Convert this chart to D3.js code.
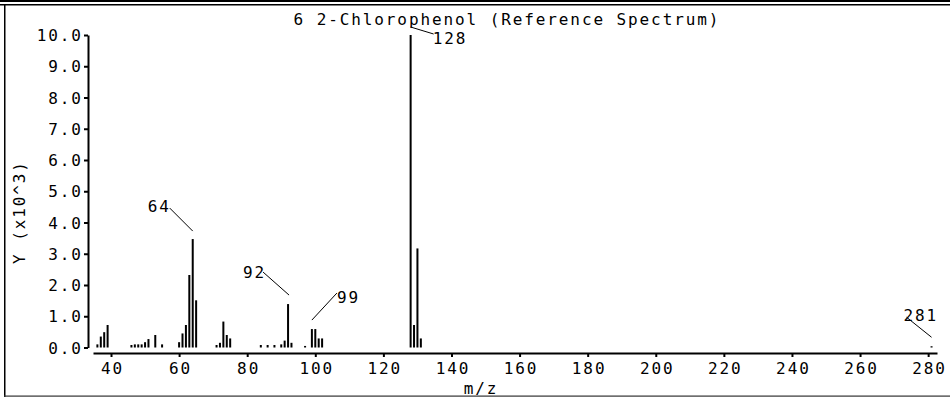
<!DOCTYPE html>
<html>
<head>
<meta charset="utf-8">
<script src="https://cdn.jsdelivr.net/npm/d3@7"></script>
<style>
  html, body { margin: 0; padding: 0; background: #fff; }
  svg { display: block; }
  text { font-family: "DejaVu Sans Mono", "Liberation Mono", monospace; font-size: 16px; letter-spacing: 1.9px; fill: #000; }
</style>
</head>
<body>
<svg id="chart" width="950" height="397"></svg>
<script>
// ---- data ----
const titleText = "6 2-Chlorophenol (Reference Spectrum)";
const xLabel = "m/z";
const yLabel = "Y (x10^3)";
const mzValues = [36, 37, 38, 39,
                  46, 47, 48, 49, 50, 51, 53, 55,
                  60, 61, 62, 63, 64, 65,
                  71, 72, 73, 74, 75,
                  84, 86, 88, 90, 91, 92, 93,
                  97, 99, 100, 101, 102,
                  128, 129, 130, 131,
                  281];
const intensities = [0.10, 0.35, 0.49, 0.72,
                     0.08, 0.10, 0.10, 0.10, 0.17, 0.27, 0.40, 0.10,
                     0.17, 0.45, 0.72, 2.32, 3.47, 1.51,
                     0.08, 0.15, 0.83, 0.40, 0.29,
                     0.08, 0.08, 0.08, 0.10, 0.22, 1.39, 0.15,
                     0.05, 0.59, 0.59, 0.29, 0.29,
                     10.0, 0.72, 3.17, 0.29,
                     0.04];
const labeledPeaks = [64, 92, 99, 128, 281];
const xTicks = [40, 60, 80, 100, 120, 140, 160, 180, 200, 220, 240, 260, 280];
const yTicks = [0, 1, 2, 3, 4, 5, 6, 7, 8, 9, 10];

// ---- layout ----
const svg = d3.select("#chart");
const x = d3.scaleLinear().domain([34.71, 282.6]).range([93, 937]);
const y = d3.scaleLinear().domain([0, 10]).range([347.5, 35]);
const xAxisY = 353;
const yAxisX = 88;
const LS = 1.9;

// frame
svg.append("rect").attr("x", 0).attr("y", 0).attr("width", 950).attr("height", 2).attr("fill", "#000");
svg.append("rect").attr("x", 0).attr("y", 4).attr("width", 950).attr("height", 1.5).attr("fill", "#000");
svg.append("rect").attr("x", 4).attr("y", 4).attr("width", 1.5).attr("height", 393).attr("fill", "#000");
svg.append("rect").attr("x", 4).attr("y", 395.5).attr("width", 946).attr("height", 1.2).attr("fill", "#333");

// title
svg.append("text").attr("x", 506 + LS / 2).attr("y", 25).attr("text-anchor", "middle").text(titleText);

// y axis
const yAxis = svg.append("g").attr("transform", `translate(${yAxisX},0)`)
  .call(d3.axisLeft(y).tickValues(yTicks).tickSize(4).tickSizeOuter(0).tickFormat(d3.format(".1f")));
yAxis.select(".domain").attr("stroke", "#000").attr("stroke-width", 2);
yAxis.selectAll(".tick line").attr("stroke", "#000").attr("stroke-width", 2);
yAxis.selectAll(".tick text")
  .attr("x", -7 + LS).attr("dy", "5.5").attr("text-anchor", "end")
  .attr("fill", "#000");
yAxis.attr("font-family", null).attr("font-size", null);

// x axis
const xAxis = svg.append("g").attr("transform", `translate(0,${xAxisY})`)
  .call(d3.axisBottom(x).tickValues(xTicks).tickSize(4).tickSizeOuter(0).tickFormat(d3.format("d")));
xAxis.select(".domain").attr("stroke", "#000").attr("stroke-width", 2);
xAxis.selectAll(".tick line").attr("stroke", "#000").attr("stroke-width", 2);
xAxis.selectAll(".tick text")
  .attr("y", 20.5).attr("dy", 0).attr("dx", LS / 2).attr("text-anchor", "middle")
  .attr("fill", "#000");
xAxis.attr("font-family", null).attr("font-size", null);

// axis titles
svg.append("text").attr("x", 480 + LS / 2).attr("y", 394).attr("text-anchor", "middle").text(xLabel);
svg.append("text").attr("transform", "translate(25,212) rotate(-90)").attr("text-anchor", "middle").text(yLabel);

// bars
const data = mzValues.map((m, i) => ({ mz: m, v: intensities[i] }));
svg.append("g").selectAll("rect").data(data).join("rect")
  .attr("x", d => x(d.mz) - 1)
  .attr("width", 2)
  .attr("y", d => Math.min(y(d.v), y(0) - 1))
  .attr("height", d => Math.max(1, y(0) - y(d.v)))
  .attr("fill", "#000");

// peak labels (leader-line offsets relative to bar top)
const labelLayout = {
  64:  { s: [0, -8],  e: [-23, -31], t: [-45, -27] },
  92:  { s: [1, -9],  e: [-25, -32], t: [-45, -26] },
  99:  { s: [0, -9],  e: [25, -36],  t: [25, -26] },
  128: { s: [0, -8],  e: [23, -1],   t: [22, 9] },
  281: { s: [0, -9],  e: [-25, -29], t: [-28, -25] }
};
const lg = svg.append("g");
labeledPeaks.forEach(m => {
  const d = data.find(p => p.mz === m);
  const bx = x(d.mz), by = y(d.v);
  const L = labelLayout[m];
  lg.append("line")
    .attr("x1", bx + L.s[0]).attr("y1", by + L.s[1])
    .attr("x2", bx + L.e[0]).attr("y2", by + L.e[1])
    .attr("stroke", "#000").attr("stroke-width", 1);
  lg.append("text").attr("x", bx + L.t[0]).attr("y", by + L.t[1]).text(String(m));
});
</script>
</body>
</html>
